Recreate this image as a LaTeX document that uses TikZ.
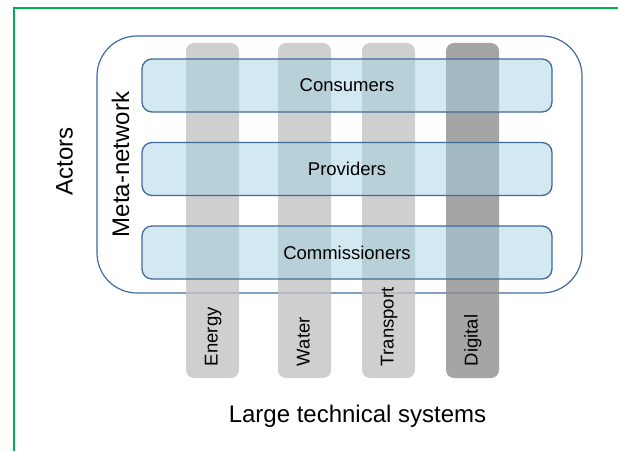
\documentclass[tikz,border=0pt]{standalone}
\usepackage{fontspec}
\setmainfont{Liberation Sans}
\usepackage{tikz}
\usetikzlibrary{positioning}
\definecolor{frameblue}{RGB}{65,106,156}
\definecolor{rowblue}{RGB}{161,209,226}
\definecolor{lightbar}{RGB}{195,195,195}
\definecolor{darkbar}{RGB}{142,142,142}
\definecolor{framegreen}{RGB}{0,176,80}
\tikzstyle{meta} = [rectangle, rounded corners=40pt, minimum width=485pt, minimum height=257pt, draw=frameblue, line width=1.2pt]
\tikzstyle{row} = [rectangle, rounded corners=10pt, minimum width=410pt, minimum height=53pt, text centered, draw=frameblue, line width=1.3pt, fill=rowblue, fill opacity=0.48, text opacity=1, font=\fontsize{18.5}{22}\selectfont]
\tikzstyle{bar} = [rectangle, rounded corners=8pt, minimum width=53pt, minimum height=335pt, fill=lightbar, fill opacity=0.8]
\tikzstyle{barlabel} = [rotate=90, anchor=mid west, inner sep=0pt, font=\fontsize{18.5}{22}\selectfont]
\tikzstyle{title} = [font=\fontsize{24}{28}\selectfont]

\begin{document}
\begin{tikzpicture}[x=1pt, y=1pt, node distance=83.5pt]
\useasboundingbox (0,0) rectangle (618,451);

% Frame
\draw [framegreen, line width=1.4pt] (14,0) -- (14,443) -- (618,443);

% Nodes
\node (metanet) [meta] at (339.5,286.5) {};

\node (energy) [bar] at (212.5,240.5) {};
\node (water) [bar, right of=energy, xshift=8.5pt] {};
\node (transport) [bar, right of=water, xshift=0.5pt] {};
\node (digital) [bar, right of=transport, xshift=0.5pt, fill=darkbar] {};

\node (consumers) [row] at (347,365.5) {Consumers};
\node (providers) [row, below of=consumers] {Providers};
\node (commissioners) [row, below of=providers] {Commissioners};

\node (energy_label) [barlabel] at ([xshift=2.5pt, yshift=12pt]energy.south) {Energy};
\node (water_label) [barlabel] at ([xshift=2.5pt, yshift=12pt]water.south) {Water};
\node (transport_label) [barlabel] at ([xshift=2.5pt, yshift=12pt]transport.south) {Transport};
\node (digital_label) [barlabel] at ([xshift=2.5pt, yshift=12pt]digital.south) {Digital};

\node (actors) [title, rotate=90] at (64.5,289.5) {Actors};
\node (meta_label) [title, rotate=90] at (120.5,286.5) {Meta-network};
\node (lts) [title, anchor=base] at (357.5,29) {Large technical systems};

\end{tikzpicture}
\end{document}
